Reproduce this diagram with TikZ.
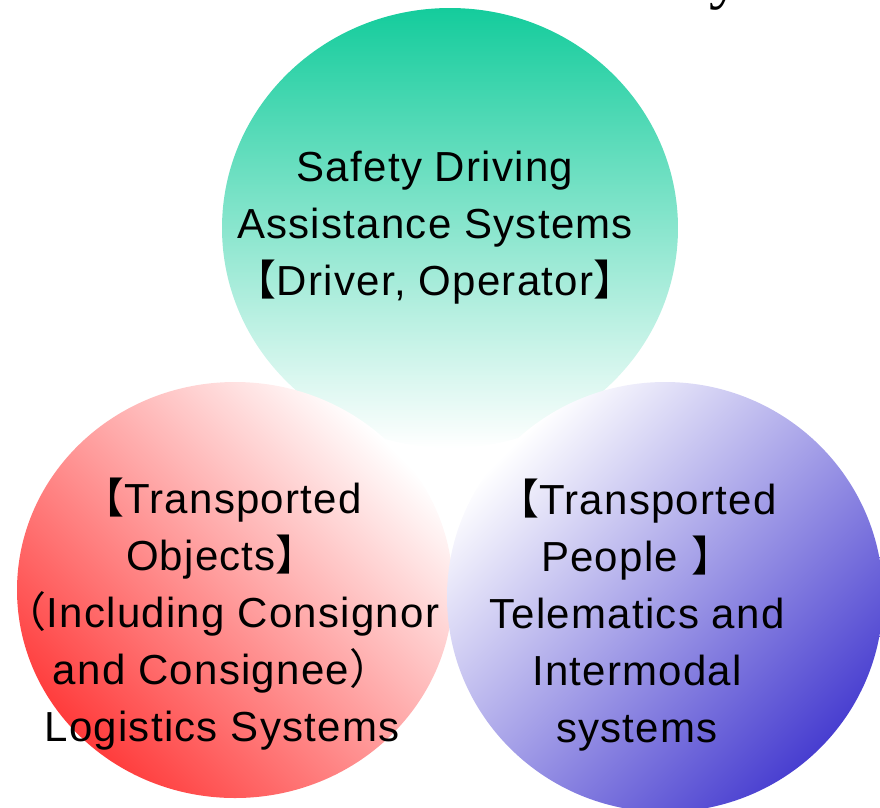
\documentclass[tikz,border=0pt]{standalone}
\usepackage{fontspec}
\setmainfont{Liberation Sans}[LetterSpace=3]
\newfontfamily\cjkfont{Noto Sans CJK JP}
\newfontfamily\titlefont{Liberation Serif}
\newcommand\lbk{{\cjkfont 【}}
\newcommand\rbk{{\cjkfont 】}}
\newcommand\lpr{{\cjkfont （}}
\newcommand\rpr{{\cjkfont ）}}
\definecolor{sdgreen}{RGB}{20,204,156}
\definecolor{tored}{RGB}{255,60,60}
\definecolor{tpblue}{RGB}{72,62,208}
\begin{document}
\begin{tikzpicture}[x=1pt, y=-1pt,
  lbl/.style={align=center, inner sep=0pt, font=\fontsize{42pt}{57pt}\selectfont}]
\useasboundingbox (0,0) rectangle (880,807);
\node[font=\titlefont\fontsize{64pt}{64pt}\selectfont, anchor=base west] (title) at (706,-4) {y};
\shade[top color=sdgreen, middle color=sdgreen!40, bottom color=white] (450,228) ellipse [x radius=228, y radius=220];
\shade[top color=white, bottom color=tored, shading angle=-45] (235,590) ellipse [x radius=218, y radius=208];
\shade[top color=white, bottom color=tpblue, shading angle=45] (665,597) ellipse [x radius=218, y radius=215];
\node[lbl] (safety) at (435,228) {Safety Driving\\Assistance Systems\\\lbk Driver, Operator\rbk};
\node[lbl] (logistics) at (222,614) {\lbk Transported\\Objects\rbk\\\lpr Including Consignor\\and Consignee\rpr\\Logistics Systems};
\node[lbl] (telematics) at (637,615) {\lbk Transported\\People \rbk\\Telematics and\\Intermodal\\systems};
\end{tikzpicture}
\end{document}
